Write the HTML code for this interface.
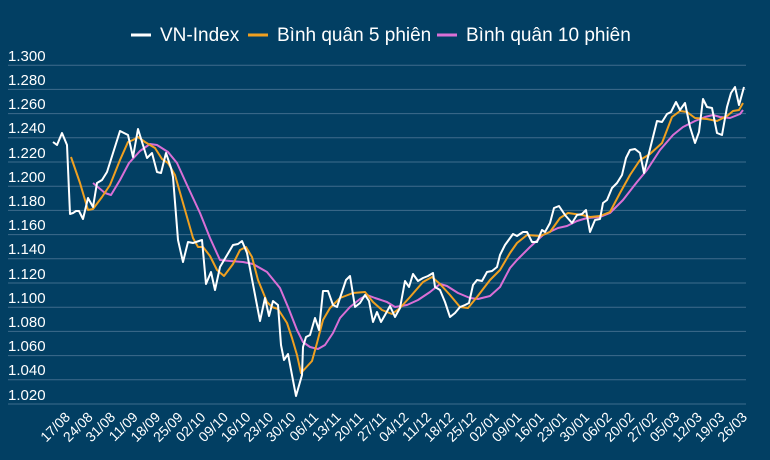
<!DOCTYPE html>
<html><head><meta charset="utf-8"><style>
html,body{margin:0;padding:0;background:#023f63;}
svg{display:block;font-family:"Liberation Sans",sans-serif;}
</style></head><body>
<svg width="770" height="460" viewBox="0 0 770 460" xmlns="http://www.w3.org/2000/svg">
<rect width="770" height="460" fill="#023f63"/>
<g stroke="#3f6c8c" stroke-width="1">
<line x1="8" x2="746" y1="65.2" y2="65.2"/><line x1="8" x2="746" y1="89.4" y2="89.4"/><line x1="8" x2="746" y1="113.6" y2="113.6"/><line x1="8" x2="746" y1="137.8" y2="137.8"/><line x1="8" x2="746" y1="162" y2="162"/><line x1="8" x2="746" y1="186.2" y2="186.2"/><line x1="8" x2="746" y1="210.4" y2="210.4"/><line x1="8" x2="746" y1="234.6" y2="234.6"/><line x1="8" x2="746" y1="258.8" y2="258.8"/><line x1="8" x2="746" y1="283" y2="283"/><line x1="8" x2="746" y1="307.2" y2="307.2"/><line x1="8" x2="746" y1="331.4" y2="331.4"/><line x1="8" x2="746" y1="355.6" y2="355.6"/><line x1="8" x2="746" y1="379.8" y2="379.8"/><line x1="8" x2="746" y1="404" y2="404"/>
</g>
<g fill="#fff" font-size="15">
<text x="8" y="61">1.300</text><text x="8" y="85">1.280</text><text x="8" y="109">1.260</text><text x="8" y="133">1.240</text><text x="8" y="158">1.220</text><text x="8" y="182">1.200</text><text x="8" y="206">1.180</text><text x="8" y="230">1.160</text><text x="8" y="254">1.140</text><text x="8" y="279">1.120</text><text x="8" y="303">1.100</text><text x="8" y="327">1.080</text><text x="8" y="351">1.060</text><text x="8" y="375">1.040</text><text x="8" y="400">1.020</text>
</g>
<g fill="#fff" font-size="14" text-anchor="end">
<text transform="translate(71,418) rotate(-45)">17/08</text>
<text transform="translate(93.6,418) rotate(-45)">24/08</text>
<text transform="translate(116.1,418) rotate(-45)">31/08</text>
<text transform="translate(138.7,418) rotate(-45)">11/09</text>
<text transform="translate(161.3,418) rotate(-45)">18/09</text>
<text transform="translate(183.8,418) rotate(-45)">25/09</text>
<text transform="translate(206.4,418) rotate(-45)">02/10</text>
<text transform="translate(229,418) rotate(-45)">09/10</text>
<text transform="translate(251.5,418) rotate(-45)">16/10</text>
<text transform="translate(274.1,418) rotate(-45)">23/10</text>
<text transform="translate(296.7,418) rotate(-45)">30/10</text>
<text transform="translate(319.3,418) rotate(-45)">06/11</text>
<text transform="translate(341.8,418) rotate(-45)">13/11</text>
<text transform="translate(364.4,418) rotate(-45)">20/11</text>
<text transform="translate(387,418) rotate(-45)">27/11</text>
<text transform="translate(409.5,418) rotate(-45)">04/12</text>
<text transform="translate(432.1,418) rotate(-45)">11/12</text>
<text transform="translate(454.7,418) rotate(-45)">18/12</text>
<text transform="translate(477.2,418) rotate(-45)">25/12</text>
<text transform="translate(499.8,418) rotate(-45)">02/01</text>
<text transform="translate(522.4,418) rotate(-45)">09/01</text>
<text transform="translate(544.9,418) rotate(-45)">16/01</text>
<text transform="translate(567.5,418) rotate(-45)">23/01</text>
<text transform="translate(590.1,418) rotate(-45)">30/01</text>
<text transform="translate(612.6,418) rotate(-45)">06/02</text>
<text transform="translate(635.2,418) rotate(-45)">20/02</text>
<text transform="translate(657.8,418) rotate(-45)">27/02</text>
<text transform="translate(680.3,418) rotate(-45)">05/03</text>
<text transform="translate(702.9,418) rotate(-45)">12/03</text>
<text transform="translate(725.5,418) rotate(-45)">19/03</text>
<text transform="translate(748,418) rotate(-45)">26/03</text>
</g>
<g fill="none" stroke-width="2" stroke-linejoin="round">
<polyline stroke="#da6fd6" points="93,183 105,193 111,195 120,180 129,163 140,151 150,144 157,145 168,152 177,163 187,185 200,213 210,238 220,260 230,261 243,262 253,264 267,272 280,288 288,307 297,330 303,342 310,347 318,349 325,345 333,333 340,318 350,307 360,299 367,295 375,298 387,302 395,307 407,305 418,300 430,292 440,284 447,286 458,293 470,298 478,299 490,296 500,287 510,268 517,260 530,247 543,235 558,228 567,226 577,221 587,218 600,217 610,213 623,200 637,182 647,170 660,150 673,135 683,127 695,121 705,117 713,115 720,117 730,118 740,114 743,110"/>
<polyline stroke="#f0a020" points="71,157 80,183 88,210 93,209 102,197 110,185 120,160 128,142 133,140 138,137 145,142 155,148 162,159 168,163 175,175 183,203 193,238 198,247 203,247 210,256 217,270 224,276 233,264 240,250 246,247 252,257 258,280 267,302 272,307 278,309 287,323 292,338 297,355 301,373 312,361 317,343 323,320 330,308 340,298 353,293 365,292 373,302 382,310 392,314 400,308 410,297 423,282 432,277 440,284 450,295 460,307 468,308 477,297 490,280 500,270 510,253 517,243 527,235 540,236 550,232 560,218 568,213 582,215 590,217 600,216 610,212 620,193 630,175 640,160 650,154 662,143 672,117 680,111 687,112 695,118 707,119 717,121 727,116 733,111 739,110 743,103"/>
<polyline stroke="#ffffff" points="53,142 57,145 62,133 67,145 70,214 73,213 76,211 79,211 83,219 88,198 93,207 97,183 102,180 107,172 120,131 128,135 133,157 138,129 147,158 152,153 157,172 161,173 166,153 171,168 173,177 178,240 183,262 188,242 193,243 202,240 206,284 211,272 215,290 220,267 233,245 238,244 242,241 247,253 260,321 265,298 269,316 273,301 278,305 281,345 284,360 288,354 296,396 302,375 303,347 306,337 310,335 315,318 319,330 323,291 328,291 333,305 337,307 342,292 346,280 350,276 355,307 360,303 365,295 369,301 373,322 377,312 381,322 385,315 390,306 395,317 400,308 405,281 409,287 413,274 418,281 423,278 428,276 433,273 435,287 440,290 445,302 450,317 455,313 460,307 465,305 469,303 473,285 477,280 482,281 487,272 492,271 497,267 500,255 505,245 513,234 517,236 523,232 527,232 532,242 537,242 542,230 545,232 550,223 554,208 559,206 565,215 572,223 577,215 582,214 586,210 590,232 595,220 600,219 603,203 607,200 612,188 617,183 622,175 626,158 630,150 635,149 640,153 644,173 648,157 653,137 657,121 662,122 667,114 671,112 676,102 680,110 685,103 690,127 695,143 699,132 703,99 707,107 712,108 717,133 722,135 727,107 731,93 735,87 739,105 744,87"/>
</g>
<g font-size="19" fill="#fff">
<line x1="131" x2="151" y1="35" y2="35" stroke="#fff" stroke-width="3"/>
<text x="160" y="41">VN-Index</text>
<line x1="248" x2="268" y1="35" y2="35" stroke="#f0a020" stroke-width="3"/>
<text x="277" y="41">Bình quân 5 phiên</text>
<line x1="437" x2="457" y1="35" y2="35" stroke="#da6fd6" stroke-width="3"/>
<text x="466" y="41">Bình quân 10 phiên</text>
</g>
</svg>
</body></html>
